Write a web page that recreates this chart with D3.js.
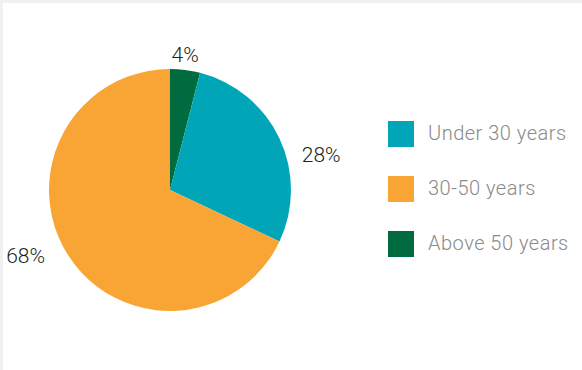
<!DOCTYPE html>
<html>
<head>
<meta charset="utf-8">
<script src="https://cdn.jsdelivr.net/npm/d3@7"></script>
<style>
  html, body { margin: 0; padding: 0; background: #ffffff; }
  svg { display: block; }
</style>
</head>
<body>
<svg id="chart" width="582" height="370"></svg>
<script>
// Age distribution of employees
const categories = ["Above 50 years", "Under 30 years", "30-50 years"];
const shares = [4, 28, 68];
const legendOrder = ["Under 30 years", "30-50 years", "Above 50 years"];
const colors = ["#006b3f", "#00a6b7", "#f9a535"];

const W = 582, H = 370;
const svg = d3.select("#chart");

// light frame along top and left edges
svg.append("rect").attr("x", 0).attr("y", 0).attr("width", W).attr("height", H).attr("fill", "#f0f1f0");
svg.append("rect").attr("x", 3).attr("y", 3).attr("width", W - 3).attr("height", H - 3).attr("fill", "#ffffff");

const color = d3.scaleOrdinal().domain(categories).range(colors);

const cx = 170, cy = 190, r = 121;
const pie = d3.pie().sort(null).value(d => d.value);
const data = categories.map((c, i) => ({ name: c, value: shares[i] }));
const arcs = pie(data);

const arc = d3.arc().innerRadius(0).outerRadius(r);
const labelArc = d3.arc().innerRadius(145).outerRadius(145);

const g = svg.append("g").attr("transform", `translate(${cx},${cy})`);
g.selectAll("path.slice")
  .data(arcs)
  .join("path")
  .attr("class", "slice")
  .attr("d", arc)
  .attr("fill", d => color(d.data.name));

// percentage labels, nudged off the label arc for legibility
const labelNudge = {
  "Above 50 years": [-3, 9],
  "Under 30 years": [20, 27],
  "30-50 years": [-22, -12]
};
g.selectAll("text.pct")
  .data(arcs)
  .join("text")
  .attr("class", "pct")
  .attr("transform", d => {
    const [x, y] = labelArc.centroid(d);
    const [nx, ny] = labelNudge[d.data.name];
    return `translate(${x + nx},${y + ny})`;
  })
  .attr("text-anchor", "middle")
  .attr("dominant-baseline", "central")
  .attr("font-family", "Roboto, sans-serif")
  .attr("font-weight", 300)
  .attr("font-size", 21)
  .attr("fill", "#231f20")
  .text(d => d.data.value + "%");

// legend
const legendY = d3.scalePoint().domain(legendOrder).range([134, 244]);
const legend = svg.append("g");
const items = legend.selectAll("g.item")
  .data(legendOrder)
  .join("g")
  .attr("class", "item")
  .attr("transform", d => `translate(388,${legendY(d)})`);
items.append("rect")
  .attr("x", 0).attr("y", -13)
  .attr("width", 26).attr("height", 26)
  .attr("fill", d => color(d));
items.append("text")
  .attr("x", 40).attr("y", -1)
  .attr("dominant-baseline", "central")
  .attr("font-family", "Roboto, sans-serif")
  .attr("font-weight", 300)
  .attr("font-size", 20)
  .attr("letter-spacing", 0.5)
  .attr("fill", "#8a8a8a")
  .text(d => d);
</script>
</body>
</html>
